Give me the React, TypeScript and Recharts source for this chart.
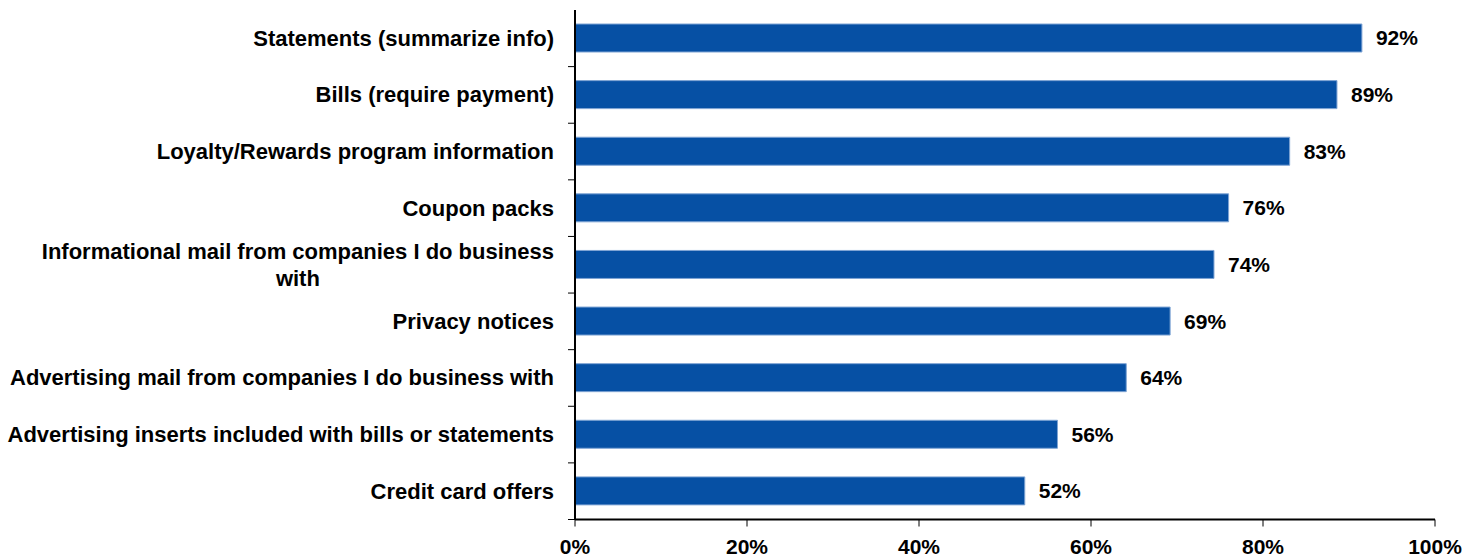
import React from 'react';
import { BarChart, Bar, XAxis, YAxis, LabelList } from 'recharts';

const categories = [
  'Statements (summarize info)',
  'Bills (require payment)',
  'Loyalty/Rewards program information',
  'Coupon packs',
  'Informational mail from companies I do business with',
  'Privacy notices',
  'Advertising mail from companies I do business with',
  'Advertising inserts included with bills or statements',
  'Credit card offers',
];
const shares = [91.5, 88.6, 83.1, 76.0, 74.3, 69.2, 64.1, 56.1, 52.3];
const xTicks = [0, 20, 40, 60, 80, 100];

const W = 1467;
const H = 558;
const TOP = 10;
const X_AXIS_H = 38.5;
const PLOT_H = H - TOP - X_AXIS_H;
const FONT = "'Liberation Sans', Arial, sans-serif";
const CAT_SIZE = 22;
const MAX_LABEL_W = 552;

const data = categories.map((name, i) => ({ name, value: shares[i] }));

let ctx: CanvasRenderingContext2D | null = null;
const measure = (s: string) => {
  if (!ctx) {
    ctx = document.createElement('canvas').getContext('2d');
  }
  if (!ctx) return s.length * 11;
  ctx.font = `bold ${CAT_SIZE}px ${FONT}`;
  return ctx.measureText(s).width;
};

const wrap = (label: string) => {
  const words = label.split(' ');
  const lines: string[] = [];
  let cur = '';
  words.forEach((w) => {
    const next = cur ? cur + ' ' + w : w;
    if (cur && measure(next) > MAX_LABEL_W) {
      lines.push(cur);
      cur = w;
    } else {
      cur = next;
    }
  });
  if (cur) lines.push(cur);
  return lines;
};

// wrapped labels are centred on their widest line, single lines sit flush right
const CategoryTick = (props: any) => {
  const { x, y, payload } = props;
  const lines = wrap(payload.value);
  const band = PLOT_H / categories.length;
  const lineH = 27;
  const first = -((lines.length - 1) * lineH) / 2;
  const multi = lines.length > 1;
  const widest = Math.max(...lines.map(measure));
  const tx = multi ? x - widest / 2 : x;
  return (
    <g>
      <text
        x={tx}
        y={y}
        textAnchor={multi ? 'middle' : 'end'}
        fontFamily={FONT}
        fontWeight="bold"
        fontSize={CAT_SIZE}
        fill="#000"
      >
        {lines.map((l, i) => (
          <tspan key={i} x={tx} dy={i === 0 ? first + 7.5 : lineH}>
            {l}
          </tspan>
        ))}
      </text>
      <line x1={x + 14} x2={x + 21} y1={y + band / 2} y2={y + band / 2} stroke="#000" strokeWidth={1} />
    </g>
  );
};

export default function App() {
  return (
    <div style={{ position: 'absolute', left: 0, top: 0, width: W, height: H, background: '#fff' }}>
      <BarChart
        width={W}
        height={H}
        data={data}
        layout="vertical"
        margin={{ top: TOP, right: 32, bottom: 0, left: 0 }}
        barCategoryGap={0}
      >
        <XAxis
          type="number"
          domain={[0, 100]}
          ticks={xTicks}
          interval={0}
          tickFormatter={(v: number) => `${v}%`}
          height={X_AXIS_H}
          tickSize={7}
          tickMargin={13}
          axisLine={{ stroke: '#000', strokeWidth: 2 }}
          tickLine={{ stroke: '#000', strokeWidth: 1 }}
          tick={{ fill: '#000', fontFamily: FONT, fontWeight: 'bold', fontSize: 21 }}
        />
        <YAxis
          type="category"
          dataKey="name"
          width={575}
          interval={0}
          tickSize={7}
          tickMargin={14}
          tickLine={false}
          axisLine={{ stroke: '#000', strokeWidth: 2 }}
          tick={<CategoryTick />}
        />
        <Bar
          dataKey="value"
          fill="#0650A4"
          stroke="#7FA4D4"
          strokeWidth={1}
          barSize={28}
          isAnimationActive={false}
        >
          <LabelList
            dataKey="value"
            position="right"
            offset={14}
            formatter={(v: any) => `${Math.round(Number(v))}%`}
            style={{ fill: '#000', fontFamily: FONT, fontWeight: 'bold', fontSize: 21 }}
          />
        </Bar>
      </BarChart>
    </div>
  );
}
